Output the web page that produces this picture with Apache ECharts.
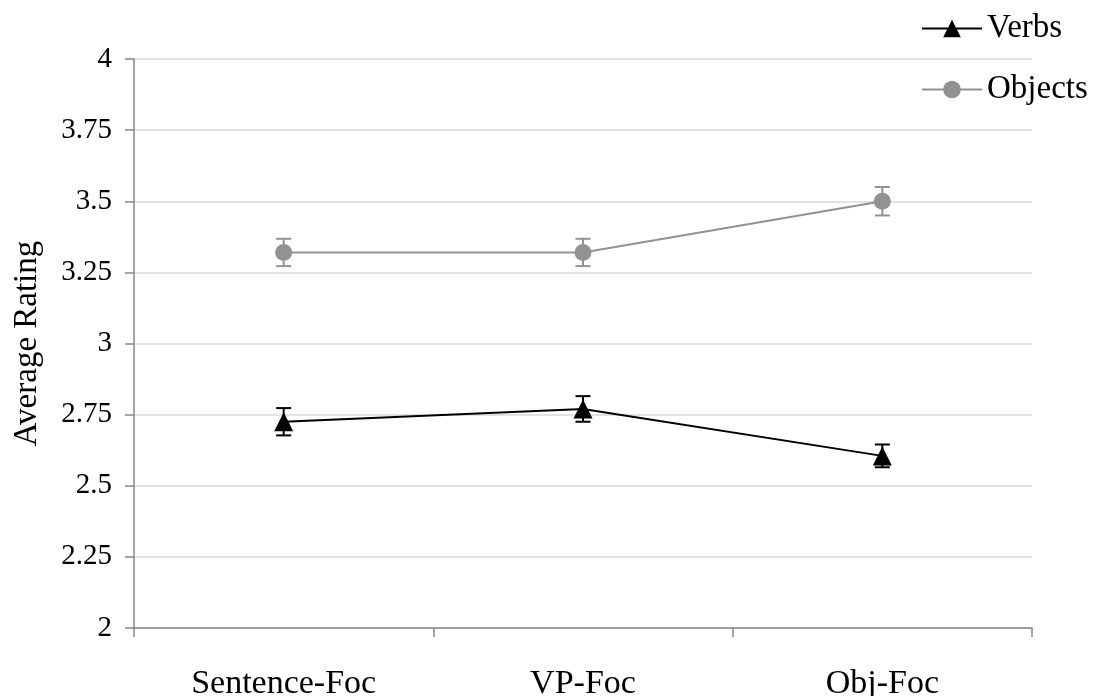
<!DOCTYPE html>
<html>
<head>
<meta charset="utf-8">
<script src="https://cdn.jsdelivr.net/npm/echarts@6/dist/echarts.min.js"></script>
<style>html,body{margin:0;padding:0;background:#fff;}#c{width:1094px;height:696px;}</style>
</head>
<body>
<div id="c"></div>
<script>
var categories = ['Sentence-Foc', 'VP-Foc', 'Obj-Foc'];
var verbs = [2.725, 2.77, 2.605];
var verbsErr = [0.048, 0.045, 0.04];
var objects = [3.32, 3.32, 3.50];
var objectsErr = [0.048, 0.048, 0.05];
var yTicks = [2, 2.25, 2.5, 2.75, 3, 3.25, 3.5, 3.75, 4];

var FONT = '"Liberation Serif", "Times New Roman", serif';
var BLACK = '#000000';
var GRAY = '#929292';

function errData(vals, errs) {
  return vals.map(function (v, i) { return [i, v - errs[i], v + errs[i]]; });
}
function errSeries(name, vals, errs, color) {
  return {
    type: 'custom',
    name: name,
    z: 1,
    data: errData(vals, errs),
    renderItem: function (params, api) {
      var lo = api.coord([api.value(0), api.value(1)]);
      var hi = api.coord([api.value(0), api.value(2)]);
      var hw = 7.5;
      var st = { stroke: color, lineWidth: 2 };
      return {
        type: 'group',
        children: [
          { type: 'line', shape: { x1: lo[0], y1: lo[1], x2: hi[0], y2: hi[1] }, style: st },
          { type: 'line', shape: { x1: lo[0] - hw, y1: lo[1], x2: lo[0] + hw, y2: lo[1] }, style: st },
          { type: 'line', shape: { x1: hi[0] - hw, y1: hi[1], x2: hi[0] + hw, y2: hi[1] }, style: st }
        ]
      };
    }
  };
}

var chart = echarts.init(document.getElementById('c'));
chart.setOption({
  animation: false,
  backgroundColor: '#ffffff',
  textStyle: { fontFamily: FONT },
  grid: { left: 134, right: 62, top: 59, bottom: 68, containLabel: false, outerBoundsMode: 'none' },
  legend: {
    data: ['Verbs', 'Objects'],
    orient: 'vertical',
    left: 916,
    top: 7,
    itemWidth: 60,
    itemHeight: 22,
    itemGap: 28,
    textStyle: { fontFamily: FONT, fontSize: 33, color: '#000' }
  },
  xAxis: {
    type: 'category',
    data: categories,
    boundaryGap: true,
    axisLine: { lineStyle: { color: '#868686', width: 1.5 } },
    axisTick: { show: true, length: 9, inside: false, lineStyle: { color: '#868686', width: 1.5 } },
    axisLabel: { fontFamily: FONT, fontSize: 34, color: '#000', margin: 39 },
    splitLine: { show: false }
  },
  yAxis: {
    type: 'value',
    min: 2,
    max: 4,
    interval: 0.25,
    name: 'Average Rating',
    nameLocation: 'middle',
    nameGap: 90,
    nameTextStyle: { fontFamily: FONT, fontSize: 33, color: '#000' },
    axisLine: { show: true, lineStyle: { color: '#868686', width: 1.5 } },
    axisTick: { show: true, length: 9, inside: false, lineStyle: { color: '#868686', width: 1.5 } },
    axisLabel: {
      fontFamily: FONT, fontSize: 29, color: '#000', margin: 22,
      formatter: function (v) {
        var t = yTicks.filter(function (x) { return Math.abs(x - v) < 1e-9; });
        return t.length ? String(t[0]) : '';
      }
    },
    splitLine: { show: true, lineStyle: { color: '#d9d9d9', width: 1.5 } }
  },
  series: [
    errSeries('verbsErr', verbs, verbsErr, BLACK),
    errSeries('objectsErr', objects, objectsErr, GRAY),
    {
      name: 'Verbs',
      type: 'line',
      data: verbs,
      z: 3,
      symbol: 'triangle',
      symbolSize: 19,
      lineStyle: { color: BLACK, width: 2 },
      itemStyle: { color: BLACK },
      emphasis: { disabled: true }
    },
    {
      name: 'Objects',
      type: 'line',
      data: objects,
      z: 3,
      symbol: 'circle',
      symbolSize: 17,
      lineStyle: { color: GRAY, width: 2 },
      itemStyle: { color: GRAY },
      emphasis: { disabled: true }
    }
  ]
});
</script>
</body>
</html>
